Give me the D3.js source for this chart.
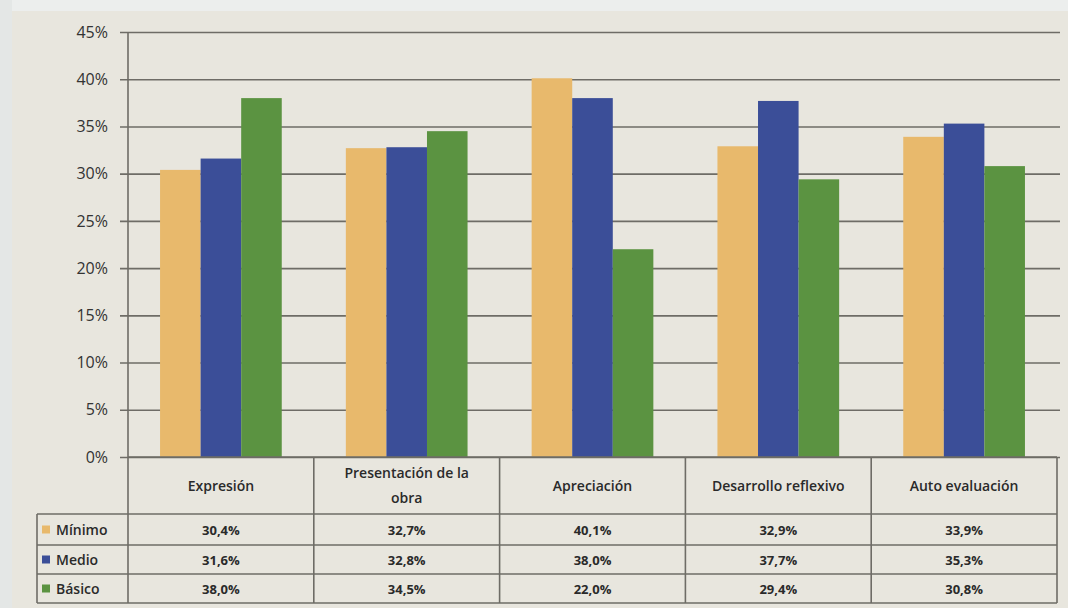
<!DOCTYPE html>
<html>
<head>
<meta charset="utf-8">
<script src="https://cdn.jsdelivr.net/npm/d3@7"></script>
<style>
  body { margin: 0; background: #e9e7e0; }
  svg { display: block; font-family: "Open Sans", "Lato", sans-serif; }
</style>
</head>
<body>
<svg id="chart" width="1068" height="608"></svg>
<script>
const WIDTH = 1068;
const HEIGHT = 608;

const categories = ["Expresión", "Presentación de la obra", "Apreciación", "Desarrollo reflexivo", "Auto evaluación"];
const categoryLines = [["Expresión"], ["Presentación de la", "obra"], ["Apreciación"], ["Desarrollo reflexivo"], ["Auto evaluación"]];
const seriesNames = ["Mínimo", "Medio", "Básico"];
const minimo = [30.4, 32.7, 40.1, 32.9, 33.9];
const medio = [31.6, 32.8, 38.0, 37.7, 35.3];
const basico = [38.0, 34.5, 22.0, 29.4, 30.8];
const yTicks = [0, 5, 10, 15, 20, 25, 30, 35, 40, 45];

const seriesValues = [minimo, medio, basico];
const colors = ["#e8b96c", "#3b4e98", "#5b9341"];

const LEFT = 128, RIGHT = 1057, TOP = 32, BASE = 457;
const HEADER_BOTTOM = 514;
const rowBottoms = [545, 574, 603];
const LEGEND_LEFT = 37;

const svg = d3.select("#chart");

// photographed paper background
svg.append("rect").attr("width", WIDTH).attr("height", HEIGHT).attr("fill", "#e8e6de");
svg.append("rect").attr("width", WIDTH).attr("height", 11).attr("fill", "#eceeed");
svg.append("rect").attr("width", 12).attr("height", HEIGHT).attr("fill", "#e4e7e6");

const x = d3.scaleBand().domain(categories).range([LEFT, RIGHT]).padding(0);
const xInner = d3.scaleBand().domain(seriesNames).range([0, x.bandwidth()]).paddingInner(0).paddingOuter(0.79);
const y = d3.scaleLinear().domain([0, 45]).range([BASE, TOP]);

// gridlines + y labels
const yAxis = d3.axisLeft(y)
  .tickValues(yTicks)
  .tickSize(-(1060 - LEFT))
  .tickPadding(20)
  .tickFormat(d => d + "%");

const gy = svg.append("g")
  .attr("transform", `translate(${LEFT},0)`)
  .call(yAxis);
gy.select(".domain").remove();
gy.selectAll(".tick line")
  .attr("x1", -8)
  .attr("stroke", "#6e6c66")
  .attr("stroke-width", 1.6);
gy.selectAll(".tick text")
  .attr("fill", "#333")
  .style("font-size", "16px")
  .style("font-family", "'Open Sans', sans-serif");

// bars
seriesNames.forEach((s, si) => {
  svg.append("g")
    .selectAll("rect")
    .data(categories)
    .join("rect")
    .attr("x", c => x(c) + xInner(s))
    .attr("width", xInner.bandwidth())
    .attr("y", (c, i) => y(seriesValues[si][i]))
    .attr("height", (c, i) => BASE - y(seriesValues[si][i]))
    .attr("fill", colors[si]);
});

// data table
const lineColor = "#6e6c66";
const table = svg.append("g").attr("stroke", lineColor).attr("stroke-width", 1.6);

table.append("line").attr("x1", LEFT).attr("x2", RIGHT).attr("y1", BASE).attr("y2", BASE);
[HEADER_BOTTOM, ...rowBottoms].forEach(yy => {
  table.append("line").attr("x1", LEGEND_LEFT).attr("x2", RIGHT).attr("y1", yy).attr("y2", yy);
});
table.append("line").attr("x1", LEFT).attr("x2", LEFT).attr("y1", TOP).attr("y2", rowBottoms[2]);
categories.forEach(c => {
  table.append("line")
    .attr("x1", x(c) + x.bandwidth()).attr("x2", x(c) + x.bandwidth())
    .attr("y1", BASE).attr("y2", rowBottoms[2]);
});
table.append("line").attr("x1", LEGEND_LEFT).attr("x2", LEGEND_LEFT).attr("y1", HEADER_BOTTOM).attr("y2", rowBottoms[2]);

// header labels
categories.forEach((c, i) => {
  const lines = categoryLines[i];
  const cx = x(c) + x.bandwidth() / 2;
  const midY = (BASE + HEADER_BOTTOM) / 2;
  lines.forEach((ln, li) => {
    svg.append("text")
      .attr("x", cx)
      .attr("y", midY + (li - (lines.length - 1) / 2) * 25 + 5)
      .attr("text-anchor", "middle")
      .attr("fill", "#2a2a2a")
      .style("font-size", "14px")
      .style("font-weight", 600)
      .text(ln);
  });
});

// value rows + legend keys
const rowTops = [HEADER_BOTTOM, rowBottoms[0], rowBottoms[1]];
seriesNames.forEach((s, si) => {
  const cy = (rowTops[si] + rowBottoms[si]) / 2;
  svg.append("rect")
    .attr("x", 42).attr("y", cy - 4).attr("width", 8).attr("height", 8)
    .attr("fill", colors[si]);
  svg.append("text")
    .attr("x", 56).attr("y", cy + 5)
    .attr("fill", "#2a2a2a")
    .style("font-size", "14px")
    .style("font-weight", 600)
    .text(s);
  categories.forEach((c, ci) => {
    svg.append("text")
      .attr("x", x(c) + x.bandwidth() / 2)
      .attr("y", cy + 5)
      .attr("text-anchor", "middle")
      .attr("fill", "#2a2a2a")
      .style("font-size", "13px")
      .style("font-weight", 700)
      .text(seriesValues[si][ci].toFixed(1).replace(".", ",") + "%");
  });
});
</script>
</body>
</html>
